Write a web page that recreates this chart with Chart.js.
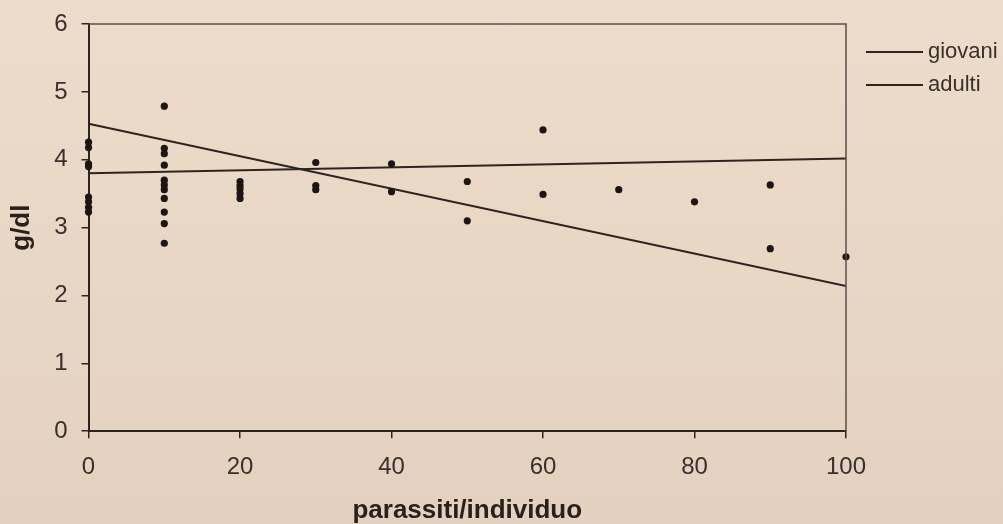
<!DOCTYPE html>
<html>
<head>
<meta charset="utf-8">
<script src="https://cdn.jsdelivr.net/npm/chart.js@4"></script>
<style>
  html, body { margin: 0; padding: 0; }
  body { width: 1003px; height: 524px; background: linear-gradient(to bottom, #eddccb 0%, #e8d6c4 60%, #e4d0be 100%); }
  #wrap { width: 1003px; height: 524px; }
</style>
</head>
<body>
<div id="wrap"><canvas id="chart"></canvas></div>
<script>
// scatter of measured values (parassiti/individuo vs g/dl)
const pointX = [0, 0, 0, 0, 0, 0, 0, 0,
                10, 10, 10, 10, 10, 10, 10, 10, 10, 10, 10,
                20, 20, 20, 20, 20,
                30, 30, 30,
                40, 40,
                50, 50,
                60, 60,
                70,
                80,
                90, 90,
                100];
const pointY = [4.26, 4.18, 3.94, 3.90, 3.45, 3.38, 3.30, 3.23,
                4.79, 4.17, 4.09, 3.92, 3.70, 3.63, 3.56, 3.43, 3.23, 3.06, 2.77,
                3.68, 3.62, 3.57, 3.50, 3.43,
                3.96, 3.62, 3.56,
                3.94, 3.53,
                3.68, 3.10,
                4.44, 3.49,
                3.56,
                3.38,
                3.63, 2.69,
                2.57];

// regression lines (ends)
const lineX = [0, 100];
const giovaniY = [3.80, 4.02];
const adultiY = [4.53, 2.14];

const seriesNames = ['giovani', 'adulti'];
const xTicks = [0, 20, 40, 60, 80, 100];
const yTicks = [0, 1, 2, 3, 4, 5, 6];

const ink = '#2e241f';
const textColor = '#3a302b';
const fontFamily = '"Liberation Sans", Arial, sans-serif';

const toPoints = (xs, ys) => xs.map((x, i) => ({ x: x, y: ys[i] }));

// plot frame (top + right) and the hand drawn legend on the right
const framePlugin = {
    id: 'frame',
    afterDatasetsDraw(chart) {
        const { ctx, chartArea } = chart;
        ctx.save();
        ctx.strokeStyle = '#5b4f47';
        ctx.lineWidth = 1.5;
        ctx.beginPath();
        ctx.moveTo(chartArea.left, chartArea.top);
        ctx.lineTo(chartArea.right, chartArea.top);
        ctx.lineTo(chartArea.right, chartArea.bottom);
        ctx.stroke();
        ctx.restore();
    },
    afterDraw(chart) {
        const { ctx } = chart;
        const lines = chart.data.datasets.filter(d => d.showLine);
        ctx.save();
        ctx.font = '22px ' + fontFamily;
        ctx.textBaseline = 'middle';
        lines.forEach((d, i) => {
            const y = 52 + i * 33;
            ctx.strokeStyle = d.borderColor;
            ctx.lineWidth = 2;
            ctx.beginPath();
            ctx.moveTo(866, y);
            ctx.lineTo(923, y);
            ctx.stroke();
            ctx.fillStyle = textColor;
            ctx.fillText(d.label, 928, y);
        });
        ctx.restore();
    }
};

new Chart(document.getElementById('chart'), {
    type: 'scatter',
    data: {
        datasets: [
            {
                label: 'dati',
                data: toPoints(pointX, pointY),
                backgroundColor: '#1c1511',
                borderColor: '#1c1511',
                pointRadius: 3.6,
                pointBorderWidth: 0,
                clip: false
            },
            {
                label: seriesNames[0],
                data: toPoints(lineX, giovaniY),
                showLine: true,
                borderColor: ink,
                borderWidth: 2,
                pointRadius: 0
            },
            {
                label: seriesNames[1],
                data: toPoints(lineX, adultiY),
                showLine: true,
                borderColor: ink,
                borderWidth: 2,
                pointRadius: 0
            }
        ]
    },
    options: {
        responsive: true,
        maintainAspectRatio: false,
        animation: false,
        layout: { padding: { left: 6, right: 157, top: 10, bottom: 0 } },
        plugins: {
            legend: { display: false },
            tooltip: { enabled: false }
        },
        scales: {
            x: {
                type: 'linear',
                min: 0,
                max: 100,
                afterBuildTicks: axis => { axis.ticks = xTicks.map(v => ({ value: v })); },
                grid: { drawOnChartArea: false, drawTicks: true, tickLength: 7, color: ink, lineWidth: 1.5 },
                border: { display: true, color: ink, width: 2 },
                ticks: { color: textColor, padding: 15, font: { family: fontFamily, size: 24 } },
                title: {
                    display: true,
                    text: 'parassiti/individuo',
                    color: '#2a201b',
                    font: { family: fontFamily, size: 26, weight: 'bold', lineHeight: 1 },
                    padding: { top: 1, bottom: 0 }
                }
            },
            y: {
                type: 'linear',
                min: 0,
                max: 6,
                afterBuildTicks: axis => { axis.ticks = yTicks.map(v => ({ value: v })); },
                grid: { drawOnChartArea: false, drawTicks: true, tickLength: 7, color: ink, lineWidth: 1.5 },
                border: { display: true, color: ink, width: 2 },
                ticks: { color: textColor, padding: 14, font: { family: fontFamily, size: 24, lineHeight: 0.84 } },
                title: {
                    display: true,
                    text: 'g/dl',
                    color: '#2a201b',
                    font: { family: fontFamily, size: 26, weight: 'bold' },
                    padding: { top: 0, bottom: 3 }
                }
            }
        }
    },
    plugins: [framePlugin]
});
</script>
</body>
</html>
